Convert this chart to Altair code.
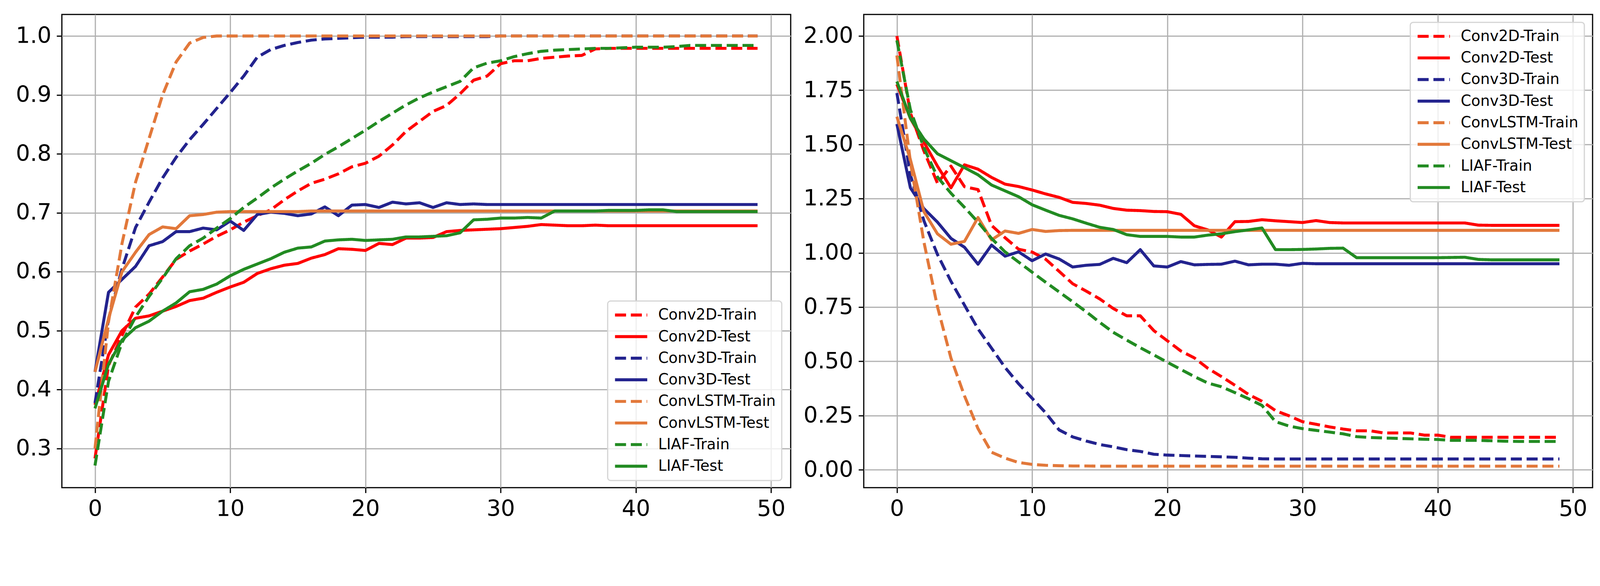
import altair as alt
import pandas as pd

# ---------------- data ----------------
epochs = list(range(50))
series_names = ["Conv2D-Train", "Conv2D-Test", "Conv3D-Train", "Conv3D-Test",
                "ConvLSTM-Train", "ConvLSTM-Test", "LIAF-Train", "LIAF-Test"]
series_colors = ["#ff0000", "#ff0000", "#23238e", "#23238e",
                 "#e2783a", "#e2783a", "#228b22", "#228b22"]
x_ticks = [0, 10, 20, 30, 40, 50]
acc_ticks = [0.3, 0.4, 0.5, 0.6, 0.7, 0.8, 0.9, 1.0]
loss_ticks = [0.0, 0.25, 0.5, 0.75, 1.0, 1.25, 1.5, 1.75, 2.0]

acc_conv2d_train = [0.283, 0.441, 0.492, 0.54, 0.562, 0.591, 0.621, 0.635, 0.647, 0.66,
                    0.671, 0.684, 0.695, 0.705, 0.722, 0.737, 0.75, 0.757, 0.766, 0.778,
                    0.784, 0.796, 0.815, 0.838, 0.855, 0.872, 0.882, 0.902, 0.925, 0.932,
                    0.953, 0.958, 0.958, 0.962, 0.964, 0.966, 0.967, 0.978, 0.979, 0.979,
                    0.979, 0.979, 0.979, 0.979, 0.979, 0.979, 0.979, 0.979, 0.979, 0.979]
acc_conv2d_test = [0.374, 0.459, 0.50, 0.521, 0.525, 0.533, 0.541, 0.551, 0.555, 0.565,
                   0.574, 0.582, 0.597, 0.605, 0.611, 0.614, 0.623, 0.629, 0.639, 0.638,
                   0.636, 0.648, 0.646, 0.657, 0.657, 0.658, 0.668, 0.67, 0.671, 0.672,
                   0.673, 0.675, 0.677, 0.68, 0.679, 0.678, 0.678, 0.679, 0.678, 0.678,
                   0.678, 0.678, 0.678, 0.678, 0.678, 0.678, 0.678, 0.678, 0.678, 0.678]
acc_conv3d_train = [0.377, 0.52, 0.605, 0.675, 0.718, 0.759, 0.794, 0.824, 0.85, 0.877,
                    0.904, 0.932, 0.964, 0.977, 0.984, 0.989, 0.993, 0.995, 0.996, 0.997,
                    0.998, 0.998, 0.998, 0.999, 0.999, 0.999, 0.999, 0.999, 0.999, 0.999,
                    1.0, 1.0, 1.0, 1.0, 1.0, 1.0, 1.0, 1.0, 1.0, 1.0,
                    1.0, 1.0, 1.0, 1.0, 1.0, 1.0, 1.0, 1.0, 1.0, 1.0]
acc_conv3d_test = [0.43, 0.565, 0.587, 0.609, 0.644, 0.651, 0.668, 0.668, 0.674, 0.671,
                   0.686, 0.670, 0.697, 0.701, 0.699, 0.695, 0.698, 0.71, 0.695, 0.713,
                   0.714, 0.709, 0.718, 0.715, 0.717, 0.709, 0.717, 0.714, 0.715, 0.714,
                   0.714, 0.714, 0.714, 0.714, 0.714, 0.714, 0.714, 0.714, 0.714, 0.714,
                   0.714, 0.714, 0.714, 0.714, 0.714, 0.714, 0.714, 0.714, 0.714, 0.714]
acc_convlstm_train = [0.30, 0.515, 0.648, 0.752, 0.826, 0.90, 0.956, 0.988, 0.9975, 1.0,
                      1.0, 1.0, 1.0, 1.0, 1.0, 1.0, 1.0, 1.0, 1.0, 1.0,
                      1.0, 1.0, 1.0, 1.0, 1.0, 1.0, 1.0, 1.0, 1.0, 1.0,
                      1.0, 1.0, 1.0, 1.0, 1.0, 1.0, 1.0, 1.0, 1.0, 1.0,
                      1.0, 1.0, 1.0, 1.0, 1.0, 1.0, 1.0, 1.0, 1.0, 1.0]
acc_convlstm_test = [0.43, 0.52, 0.60, 0.633, 0.663, 0.676, 0.673, 0.695, 0.697, 0.701,
                     0.702, 0.702, 0.702, 0.702, 0.702, 0.702, 0.703, 0.703, 0.703, 0.703,
                     0.703, 0.703, 0.703, 0.703, 0.703, 0.703, 0.703, 0.703, 0.703, 0.703,
                     0.703, 0.703, 0.703, 0.703, 0.703, 0.703, 0.703, 0.703, 0.703, 0.703,
                     0.703, 0.703, 0.703, 0.703, 0.703, 0.703, 0.703, 0.703, 0.703, 0.703]
acc_liaf_train = [0.271, 0.414, 0.48, 0.523, 0.558, 0.589, 0.622, 0.644, 0.657, 0.674,
                  0.69, 0.709, 0.725, 0.742, 0.757, 0.771, 0.784, 0.799, 0.812, 0.826,
                  0.84, 0.855, 0.869, 0.883, 0.895, 0.905, 0.914, 0.923, 0.946, 0.954,
                  0.958, 0.965, 0.97, 0.974, 0.976, 0.977, 0.978, 0.979, 0.979, 0.98,
                  0.981, 0.981, 0.981, 0.982, 0.984, 0.984, 0.984, 0.984, 0.984, 0.984]
acc_liaf_test = [0.368, 0.443, 0.484, 0.505, 0.516, 0.533, 0.547, 0.566, 0.57, 0.579,
                 0.593, 0.604, 0.613, 0.622, 0.633, 0.64, 0.642, 0.652, 0.654, 0.655,
                 0.653, 0.654, 0.655, 0.659, 0.659, 0.66, 0.661, 0.666, 0.688, 0.689,
                 0.691, 0.691, 0.692, 0.691, 0.703, 0.703, 0.703, 0.703, 0.704, 0.704,
                 0.704, 0.705, 0.705, 0.702, 0.702, 0.702, 0.702, 0.702, 0.702, 0.702]

loss_conv2d_train = [2.00, 1.645, 1.47, 1.322, 1.40, 1.305, 1.292, 1.127, 1.07, 1.017,
                     1.004, 0.971, 0.915, 0.858, 0.824, 0.788, 0.744, 0.71, 0.71, 0.642,
                     0.595, 0.548, 0.516, 0.468, 0.43, 0.39, 0.348, 0.316, 0.273, 0.249,
                     0.222, 0.21, 0.198, 0.188, 0.18, 0.18, 0.17, 0.17, 0.17, 0.16,
                     0.16, 0.15, 0.15, 0.15, 0.15, 0.15, 0.15, 0.15, 0.15, 0.15]
loss_conv2d_test = [1.777, 1.62, 1.51, 1.40, 1.30, 1.406, 1.386, 1.348, 1.317, 1.306,
                    1.29, 1.272, 1.256, 1.233, 1.228, 1.22, 1.205, 1.197, 1.195, 1.191,
                    1.19, 1.178, 1.125, 1.106, 1.073, 1.144, 1.145, 1.153, 1.148, 1.144,
                    1.14, 1.149, 1.14, 1.138, 1.138, 1.138, 1.138, 1.138, 1.138, 1.138,
                    1.138, 1.138, 1.138, 1.128, 1.127, 1.127, 1.127, 1.127, 1.127, 1.127]
loss_conv3d_train = [1.737, 1.36, 1.148, 0.993, 0.869, 0.759, 0.65, 0.561, 0.472, 0.397,
                     0.33, 0.263, 0.184, 0.152, 0.133, 0.117, 0.106, 0.093, 0.085, 0.072,
                     0.068, 0.066, 0.064, 0.062, 0.06, 0.058, 0.054, 0.051, 0.05, 0.05,
                     0.05, 0.05, 0.05, 0.05, 0.05, 0.05, 0.05, 0.05, 0.05, 0.05,
                     0.05, 0.05, 0.05, 0.05, 0.05, 0.05, 0.05, 0.05, 0.05, 0.05]
loss_conv3d_test = [1.594, 1.30, 1.204, 1.142, 1.067, 1.026, 0.948, 1.036, 0.985, 1.005,
                    0.964, 0.995, 0.972, 0.935, 0.943, 0.947, 0.975, 0.955, 1.015, 0.94,
                    0.935, 0.96, 0.945, 0.947, 0.948, 0.962, 0.945, 0.948, 0.948, 0.943,
                    0.952, 0.95, 0.95, 0.95, 0.95, 0.95, 0.95, 0.95, 0.95, 0.95,
                    0.95, 0.95, 0.95, 0.95, 0.95, 0.95, 0.95, 0.95, 0.95, 0.95]
loss_convlstm_train = [1.91, 1.42, 1.05, 0.752, 0.515, 0.341, 0.19, 0.081, 0.054, 0.034,
                       0.025, 0.021, 0.019, 0.018, 0.018, 0.017, 0.017, 0.017, 0.017, 0.017,
                       0.017, 0.017, 0.017, 0.017, 0.017, 0.017, 0.017, 0.017, 0.017, 0.017,
                       0.017, 0.017, 0.017, 0.017, 0.017, 0.017, 0.017, 0.017, 0.017, 0.017,
                       0.017, 0.017, 0.017, 0.017, 0.017, 0.017, 0.017, 0.017, 0.017, 0.017]
loss_convlstm_test = [1.628, 1.43, 1.19, 1.088, 1.04, 1.053, 1.163, 1.06, 1.101, 1.09,
                      1.108, 1.099, 1.103, 1.104, 1.104, 1.104, 1.104, 1.104, 1.104, 1.104,
                      1.104, 1.104, 1.104, 1.104, 1.104, 1.104, 1.104, 1.104, 1.104, 1.104,
                      1.104, 1.104, 1.104, 1.104, 1.104, 1.104, 1.104, 1.104, 1.104, 1.104,
                      1.104, 1.104, 1.104, 1.104, 1.104, 1.104, 1.104, 1.104, 1.104, 1.104]
loss_liaf_train = [1.98, 1.66, 1.484, 1.35, 1.275, 1.21, 1.142, 1.067, 1.005, 0.958,
                   0.911, 0.865, 0.82, 0.775, 0.729, 0.68, 0.634, 0.598, 0.563, 0.53,
                   0.496, 0.463, 0.43, 0.40, 0.383, 0.356, 0.328, 0.297, 0.222, 0.202,
                   0.19, 0.182, 0.174, 0.166, 0.153, 0.149, 0.147, 0.145, 0.143, 0.141,
                   0.14, 0.136, 0.136, 0.136, 0.134, 0.132, 0.131, 0.131, 0.131, 0.131]
loss_liaf_test = [1.79, 1.62, 1.525, 1.457, 1.425, 1.393, 1.36, 1.313, 1.286, 1.259,
                  1.222, 1.197, 1.173, 1.157, 1.137, 1.118, 1.108, 1.084, 1.076, 1.076,
                  1.076, 1.073, 1.073, 1.082, 1.088, 1.098, 1.106, 1.115, 1.015, 1.015,
                  1.016, 1.018, 1.021, 1.022, 0.978, 0.978, 0.978, 0.978, 0.978, 0.978,
                  0.978, 0.979, 0.98, 0.97, 0.968, 0.968, 0.968, 0.968, 0.968, 0.968]

acc_series = [acc_conv2d_train, acc_conv2d_test, acc_conv3d_train, acc_conv3d_test,
              acc_convlstm_train, acc_convlstm_test, acc_liaf_train, acc_liaf_test]
loss_series = [loss_conv2d_train, loss_conv2d_test, loss_conv3d_train, loss_conv3d_test,
               loss_convlstm_train, loss_convlstm_test, loss_liaf_train, loss_liaf_test]

LW = 8.33
DASH = [30.8, 13.3]
SOLID = [1, 0]
series_dashes = [DASH, SOLID, DASH, SOLID, DASH, SOLID, DASH, SOLID]
FONT = "DejaVu Sans"
PW, PH = 2035, 1321


def build_df(lists):
    rows = []
    for name, vals in zip(series_names, lists):
        for e, v in zip(epochs, vals):
            rows.append({"epoch": e, "value": v, "series": name})
    return pd.DataFrame(rows)


def panel(df, ydomain, yticks, yfmt, lx, ly, extent):
    x = alt.X("epoch:Q",
              scale=alt.Scale(domain=[-2.45, 51.45], nice=False, zero=False),
              axis=alt.Axis(values=x_ticks, format="d", title=None,
                            labelFlush=False, labelOverlap=False))
    y = alt.Y("value:Q",
              scale=alt.Scale(domain=ydomain, nice=False, zero=False),
              axis=alt.Axis(values=yticks, format=yfmt, title=None,
                            minExtent=extent, maxExtent=extent,
                            labelOverlap=False, labelFlush=False))
    legend = alt.Legend(title=None, orient="none", legendX=lx, legendY=ly,
                        direction="vertical", columns=1)
    color = alt.Color("series:N",
                      scale=alt.Scale(domain=series_names, range=series_colors),
                      legend=legend)
    dash = alt.StrokeDash("series:N",
                          scale=alt.Scale(domain=series_names, range=series_dashes),
                          legend=legend)
    layers = []
    for s in series_names:
        layers.append(
            alt.Chart(df)
            .transform_filter(alt.datum.series == s)
            .mark_line(strokeWidth=LW, strokeCap="butt", strokeJoin="round")
            .encode(x=x, y=y, color=color, strokeDash=dash)
        )
    return alt.layer(*layers).properties(width=PW, height=PH)


left = panel(build_df(acc_series), [0.2335, 1.0365], acc_ticks, ".1f",
             1524, 800, 130)
right = panel(build_df(loss_series), [-0.082, 2.099], loss_ticks, ".2f",
              1526, 22, 170)

chart = (
    alt.hconcat(left, right, spacing=30)
    .resolve_scale(color="independent", strokeDash="independent")
    .resolve_legend(color="independent", strokeDash="independent")
    .properties(padding={"left": 32, "top": -33, "right": 10, "bottom": 0},
                background="white")
    .configure(font=FONT)
    .configure_view(stroke="black", strokeWidth=3.3)
    .configure_axis(
        domain=False,
        grid=True, gridColor="#b0b0b0", gridWidth=3.3,
        ticks=True, tickColor="black", tickWidth=3.3, tickSize=14.6,
        labelFont=FONT, labelFontSize=62.5, labelColor="black",
        labelPadding=15,
    )
    .configure_legend(
        labelFont=FONT, labelFontSize=41.7, labelColor="black",
        labelLimit=800, labelOffset=26,
        symbolType="stroke", symbolSize=8100, symbolStrokeWidth=LW,
        clipHeight=46, rowPadding=14.3, padding=16,
        fillColor="rgba(255,255,255,0.8)", strokeColor="#d5d5d5",
        strokeWidth=3.3, cornerRadius=8,
    )
)

chart.save("out.html", embed_options={"renderer": "svg", "actions": False})
